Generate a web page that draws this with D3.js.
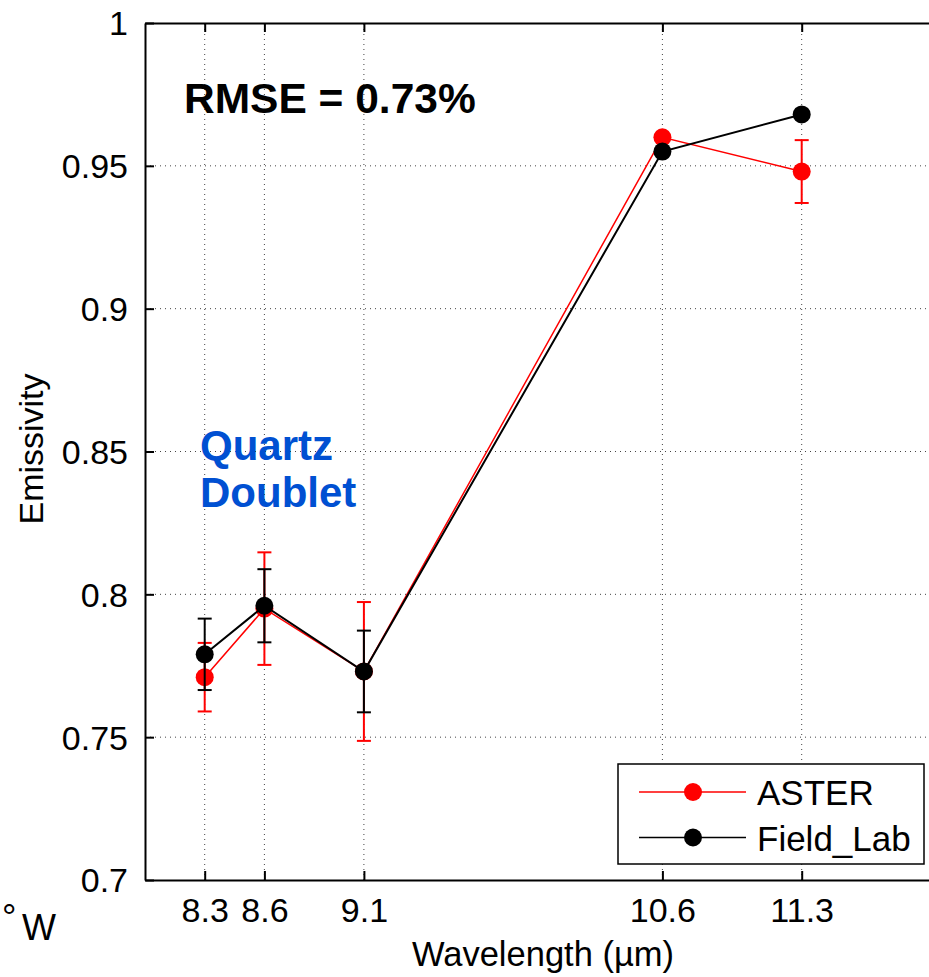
<!DOCTYPE html>
<meta charset="utf-8">
<script src="https://d3js.org/d3.v7.min.js"></script>
<style>
  body { margin: 0; background: #fff; }
  svg { font-family: "Liberation Sans", Arial, sans-serif; display: block; }
</style>
<div id="chart"></div>
<script>
// data
var wavelengths = [8.3, 8.6, 9.1, 10.6, 11.3];
var asterEmis = [0.771, 0.795, 0.773, 0.960, 0.948];
var asterErr = [0.012, 0.0197, 0.0243, 0, 0.011];
var fieldEmis = [0.779, 0.796, 0.773, 0.955, 0.968];
var fieldErr = [0.0125, 0.0128, 0.0143, 0, 0];
var yTicks = [0.7, 0.75, 0.8, 0.85, 0.9, 0.95, 1];
var yTickLabels = ["0.7", "0.75", "0.8", "0.85", "0.9", "0.95", "1"];
var xTickLabels = ["8.3", "8.6", "9.1", "10.6", "11.3"];
var seriesNames = ["ASTER", "Field_Lab"];
var seriesColors = ["#ff0000", "#000000"];

var width = 929, height = 977;
var margin = {left: 145, top: 23, right: -12, bottom: 97};

var svg = d3.select("#chart").append("svg")
  .attr("width", width)
  .attr("height", height);

var x = d3.scaleLinear().domain([8, 12]).range([margin.left, width - margin.right]);
var y = d3.scaleLinear().domain([0.7, 1]).range([height - margin.bottom, margin.top]);

// grid
var grid = svg.append("g")
  .attr("stroke", "#444")
  .attr("stroke-width", 1)
  .attr("stroke-dasharray", "1,4");
grid.selectAll(".gx").data(wavelengths).enter().append("line")
  .attr("x1", d => x(d)).attr("x2", d => x(d))
  .attr("y1", y(0.7)).attr("y2", y(1));
grid.selectAll(".gy").data(yTicks.slice(1, -1)).enter().append("line")
  .attr("y1", d => y(d)).attr("y2", d => y(d))
  .attr("x1", x(8)).attr("x2", x(12));

// axes (matlab style, ticks pointing inward)
var xAxis = svg.append("g")
  .attr("transform", "translate(0," + y(0.7) + ")")
  .call(d3.axisBottom(x).tickValues(wavelengths).tickSizeInner(-9).tickSizeOuter(0)
    .tickFormat((d, i) => xTickLabels[i]));
xAxis.selectAll("text").attr("dy", 0).attr("y", 42).style("font-size", "34px")
  .attr("fill", "#000");

var xTop = svg.append("g")
  .attr("transform", "translate(0," + y(1) + ")")
  .call(d3.axisTop(x).tickValues(wavelengths).tickSizeInner(-9).tickSizeOuter(0)
    .tickFormat(""));

var yAxis = svg.append("g")
  .attr("transform", "translate(" + x(8) + ",0)")
  .call(d3.axisLeft(y).tickValues(yTicks).tickSizeInner(-9).tickSizeOuter(0)
    .tickFormat((d, i) => yTickLabels[i]));
yAxis.selectAll("text").attr("x", -17).attr("dy", "0.35em").style("font-size", "34px")
  .attr("fill", "#000");

svg.selectAll(".domain").attr("stroke", "#000").attr("stroke-width", 2);
svg.selectAll(".tick line").attr("stroke", "#000").attr("stroke-width", 2);

// axis titles
svg.append("text")
  .attr("x", (x(8) + x(12)) / 2).attr("y", 966)
  .attr("text-anchor", "middle")
  .style("font-size", "34.5px")
  .text("Wavelength (\u00b5m)");

svg.append("text")
  .attr("transform", "translate(43," + 449 + ") rotate(-90)")
  .attr("text-anchor", "middle")
  .style("font-size", "34px")
  .text("Emissivity");

// series
var line = d3.line().x(d => x(d[0])).y(d => y(d[1]));
var series = [
  {vals: asterEmis, err: asterErr, color: seriesColors[0], w: 1.5},
  {vals: fieldEmis, err: fieldErr, color: seriesColors[1], w: 2}
];
series.forEach(function(s) {
  var pts = wavelengths.map((w, i) => [w, s.vals[i], s.err[i]]);
  var g = svg.append("g");
  g.append("path")
    .attr("d", line(pts))
    .attr("fill", "none")
    .attr("stroke", s.color)
    .attr("stroke-width", s.w);
  var eb = g.selectAll(".eb").data(pts.filter(p => p[2] > 0)).enter().append("g")
    .attr("stroke", s.color).attr("stroke-width", 2);
  eb.append("line")
    .attr("x1", d => x(d[0])).attr("x2", d => x(d[0]))
    .attr("y1", d => y(d[1] - d[2])).attr("y2", d => y(d[1] + d[2]));
  eb.append("line")
    .attr("x1", d => x(d[0]) - 7).attr("x2", d => x(d[0]) + 7)
    .attr("y1", d => y(d[1] + d[2])).attr("y2", d => y(d[1] + d[2]));
  eb.append("line")
    .attr("x1", d => x(d[0]) - 7).attr("x2", d => x(d[0]) + 7)
    .attr("y1", d => y(d[1] - d[2])).attr("y2", d => y(d[1] - d[2]));
  g.selectAll("circle").data(pts).enter().append("circle")
    .attr("cx", d => x(d[0])).attr("cy", d => y(d[1]))
    .attr("r", 9)
    .attr("fill", s.color);
});

// annotations
svg.append("text")
  .attr("x", 184).attr("y", 113)
  .style("font-size", "42.5px").style("font-weight", "bold")
  .text("RMSE = 0.73%");

var qd = svg.append("text")
  .style("font-size", "42px").style("font-weight", "bold")
  .attr("fill", "#0050d2");
qd.append("tspan").attr("x", 200).attr("y", 460).text("Quartz");
qd.append("tspan").attr("x", 200).attr("y", 507).text("Doublet");

// legend
var leg = svg.append("g");
leg.append("rect")
  .attr("x", 618).attr("y", 764).attr("width", 306).attr("height", 100)
  .attr("fill", "#fff").attr("stroke", "#000").attr("stroke-width", 1.5);
seriesNames.forEach(function(name, i) {
  var ly = 792 + i * 45.5;
  leg.append("line")
    .attr("x1", 639).attr("x2", 746).attr("y1", ly).attr("y2", ly)
    .attr("stroke", seriesColors[i]).attr("stroke-width", 1.5);
  leg.append("circle")
    .attr("cx", 693).attr("cy", ly).attr("r", 9).attr("fill", seriesColors[i]);
  leg.append("text")
    .attr("x", 757).attr("y", ly + 13)
    .style("font-size", "35px")
    .text(name);
});

// fragment of neighbouring panel's label
var frag = svg.append("text")
  .attr("x", 2).attr("y", 940)
  .style("font-size", "36px");
frag.append("tspan").attr("dy", -10).text("\u00b0");
frag.append("tspan").attr("x", 22).attr("y", 940).text("W");
</script>
